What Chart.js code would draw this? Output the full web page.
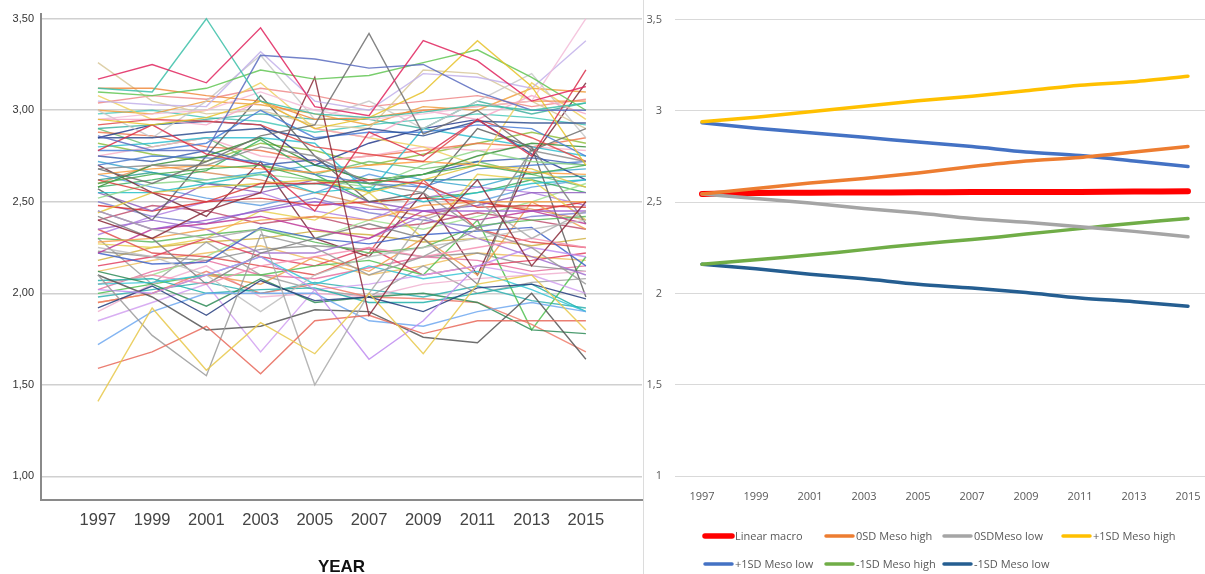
<!DOCTYPE html>
<html><head><meta charset="utf-8">
<script src="https://cdn.jsdelivr.net/npm/chart.js@4.4.1/dist/chart.umd.min.js"></script>
<style>
html,body{margin:0;padding:0;background:#fff;width:1205px;height:574px;overflow:hidden;}
#left{position:absolute;left:0;top:0;}
#right{position:absolute;left:644px;top:0;}
#sep{position:absolute;left:643px;top:0;width:1px;height:574px;background:#dcdcdc;}
</style></head><body>
<canvas id="left" width="643" height="574"></canvas>
<div id="sep"></div>
<canvas id="right" width="561" height="574"></canvas>
<script>
// ---------- shared categories ----------
const years = [1997, 1999, 2001, 2003, 2005, 2007, 2009, 2011, 2013, 2015];
const leftYTicks = [1.0, 1.5, 2.0, 2.5, 3.0, 3.5];
const rightYTicks = [1, 1.5, 2, 2.5, 3, 3.5];

// ---------- left panel: individual trajectories ----------
const p01 = [3.17,3.25,3.15,3.45,3.02,2.97,3.38,3.27,3.05,3.13];
const p02 = [3.12,3.10,3.50,3.05,2.98,2.96,2.99,3.03,3.00,3.04];
const p03 = [2.86,2.78,2.78,3.30,3.28,3.23,3.25,3.10,3.00,3.00];
const p04 = [2.68,2.60,2.72,2.86,2.92,3.42,2.87,3.00,2.78,2.90];
const p05 = [2.95,2.92,2.96,3.05,2.90,2.96,3.10,3.38,3.13,2.70];
const p06 = [3.10,3.08,3.12,3.22,3.17,3.19,3.26,3.33,3.18,3.00];
const p07 = [2.95,2.98,3.00,3.10,3.00,2.95,2.98,3.02,3.05,3.50];
const p08 = [3.05,3.03,3.02,3.32,3.05,3.00,3.20,3.18,3.12,3.38];
const p09 = [2.40,2.30,2.45,2.55,3.18,1.88,2.30,2.62,2.15,2.50];
const p10 = [2.78,2.92,2.76,2.70,2.45,2.88,2.75,2.95,2.75,3.22];
const p11 = [1.41,1.92,1.58,1.84,1.67,2.00,1.67,2.05,2.10,1.80];
const p12 = [1.59,1.68,1.82,1.56,1.85,1.88,1.78,1.85,1.85,1.85];
const p13 = [2.10,1.77,1.55,2.32,2.25,2.10,2.20,2.35,2.25,2.05];
const p14 = [2.45,2.35,2.30,2.35,1.50,2.00,2.40,2.50,2.30,2.45];
const p15 = [2.02,2.00,2.10,2.20,2.02,1.64,1.85,2.15,2.25,2.20];
const p16 = [2.10,1.98,1.80,1.82,1.91,1.90,1.76,1.73,2.00,1.64];
const p17 = [1.92,2.04,1.88,2.07,1.96,1.98,1.90,2.03,2.05,1.97];
const p18 = [1.72,1.90,2.00,2.00,2.00,1.85,1.82,1.90,1.95,1.90];
const p19 = [2.25,2.20,2.10,1.90,2.10,2.20,2.25,2.30,2.35,2.40];
const p20 = [2.85,2.85,2.88,2.90,2.84,2.90,2.86,2.94,2.93,2.93];
const p21 = [2.78,2.78,2.82,3.00,2.85,2.88,2.88,2.92,2.90,2.75];
const p22 = [2.60,2.65,2.68,2.70,2.62,2.60,2.65,2.70,2.65,2.70];
const p23 = [3.12,3.12,3.08,3.05,2.95,2.96,3.00,3.02,3.05,3.05];
const p24 = [2.62,2.55,2.50,2.60,2.60,2.62,2.60,2.47,2.48,2.47];
const p25 = [2.45,2.35,2.40,2.45,2.50,2.46,2.45,2.45,2.45,2.45];
const p26 = [2.68,2.70,2.70,2.80,2.75,2.60,2.55,2.35,2.78,2.72];
const p27 = [2.05,2.06,2.10,2.20,2.05,2.15,2.08,2.12,2.02,1.90];
const p28 = [2.12,2.05,1.93,2.08,1.95,1.98,2.00,1.95,1.80,1.78];
const p29 = [2.07,2.08,2.00,2.02,2.03,1.95,1.95,2.00,2.05,1.90];
const p30 = [2.05,2.10,2.05,2.15,2.20,2.25,2.20,2.25,2.30,2.25];
const p31 = [2.28,2.30,2.35,2.40,2.42,2.40,2.48,2.50,2.50,2.50];
const p32 = [2.22,2.35,2.38,2.42,2.35,2.30,2.45,2.40,2.45,2.38];
const p33 = [2.44,2.55,2.58,2.60,2.62,2.55,2.62,2.70,2.68,2.58];
const p34 = [2.52,2.60,2.62,2.65,2.62,2.58,2.70,2.78,2.72,2.70];
const p35 = [2.92,2.95,2.94,2.92,2.80,2.76,2.72,2.95,2.85,2.72];
const p36 = [2.42,2.30,2.05,2.22,2.30,2.38,2.30,2.05,2.80,2.38];
const p37 = [2.58,2.70,2.75,2.85,2.70,2.62,2.65,2.75,2.82,2.80];
const p38 = [2.22,2.16,2.17,2.36,2.30,2.27,2.32,2.34,2.36,2.15];
const p39 = [1.95,2.00,2.12,2.00,2.05,1.98,1.97,1.95,1.83,1.68];
const p40 = [1.85,1.95,2.05,1.68,2.02,2.05,2.10,2.15,2.10,2.00];
const p41 = [2.55,2.55,2.60,2.65,2.55,2.58,2.50,2.55,2.60,2.62];
const p42 = [2.65,2.68,2.70,2.68,2.66,2.70,2.72,2.70,2.66,2.65];
const p43 = [2.95,2.95,2.92,3.05,2.90,2.85,3.00,2.95,3.08,2.98];
const p44 = [3.00,2.85,3.05,3.30,2.95,3.05,2.90,3.05,3.20,2.85];
const p45 = [2.35,2.40,2.35,2.22,2.22,2.30,2.42,2.30,2.20,2.10];
const p46 = [3.08,2.95,3.00,3.15,2.90,2.85,2.80,2.70,3.15,2.95];
const p47 = [2.30,2.28,2.32,2.35,2.28,2.22,2.25,2.37,2.40,2.42];
const p48 = [2.35,2.22,2.20,2.15,2.10,2.22,2.62,2.35,2.28,2.25];
const p49 = [2.70,2.75,2.74,2.72,2.65,2.60,2.58,2.68,2.70,2.72];
const p50 = [3.26,3.05,2.98,3.00,2.92,2.90,3.22,3.20,3.05,2.90];
const p51 = [2.90,2.92,2.95,2.98,2.95,2.95,2.90,3.05,2.98,3.04];
const p52 = [2.57,2.40,2.75,3.08,2.75,2.50,2.55,2.90,2.80,1.98];
const p53 = [1.95,2.00,2.10,2.05,2.20,2.12,2.30,2.10,2.50,2.35];
const p54 = [2.80,2.82,2.85,2.85,2.82,2.55,2.90,2.85,2.80,2.75];
const p55 = [1.90,2.05,2.15,1.98,2.00,1.98,2.05,2.08,2.10,2.12];
const p56 = [2.00,2.05,2.10,2.10,2.15,2.18,2.10,2.40,1.80,2.20];
const p57 = [2.15,2.20,2.30,2.20,2.15,2.25,2.10,2.15,2.18,2.22];
const p58 = [2.55,2.45,2.60,2.55,2.62,2.50,2.45,2.48,2.55,2.55];
const p59 = [2.23,2.20,2.18,2.24,2.26,2.24,2.20,2.22,2.15,2.12];
const p60 = [2.75,2.72,2.78,2.70,2.73,2.60,2.65,2.72,2.74,2.70];
const p61 = [2.27,2.25,2.30,2.45,2.40,2.55,2.30,2.65,2.62,2.40];
const p62 = [2.62,2.66,2.60,2.58,2.60,2.56,2.62,2.62,2.63,2.64];
const p63 = [2.70,2.55,2.42,2.72,2.30,2.20,2.55,2.10,2.74,3.15];
const p64 = [3.00,2.98,3.05,3.03,2.98,2.92,3.02,3.00,3.12,3.10];
const p65 = [2.05,2.10,2.20,2.35,2.30,2.40,2.35,2.42,2.50,2.60];
const p66 = [2.30,2.05,2.28,2.10,2.02,1.98,2.15,2.00,2.06,2.08];
const p67 = [2.75,2.80,2.85,2.75,2.72,2.75,2.80,2.78,2.80,2.78];
const p68 = [2.48,2.45,2.50,2.52,2.48,2.50,2.52,2.50,2.45,2.50];
const p69 = [2.85,2.92,2.94,2.92,2.70,2.82,2.90,2.95,2.76,2.62];
const p70 = [2.58,2.62,2.67,2.84,2.65,2.50,2.52,2.55,2.62,2.55];
const p71 = [2.98,3.00,2.96,2.94,2.88,2.92,2.95,2.98,2.96,2.92];
const p72 = [2.88,2.86,2.80,2.78,2.72,2.75,2.78,2.82,2.80,2.85];
const p73 = [2.32,2.42,2.50,2.55,2.45,2.40,2.52,2.58,2.55,2.48];
const p74 = [2.18,2.25,2.28,2.30,2.34,2.32,2.28,2.30,2.26,2.30];
const p75 = [2.65,2.58,2.52,2.48,2.55,2.65,2.58,2.50,2.58,2.62];
const p76 = [2.02,2.12,2.18,2.10,2.08,2.14,2.20,2.18,2.12,2.15];
const p77 = [2.90,2.80,2.85,2.70,2.65,2.72,2.68,2.72,2.65,2.58];
const p78 = [2.40,2.48,2.45,2.38,2.42,2.35,2.38,2.44,2.40,2.35];
const p79 = [2.72,2.66,2.62,2.66,2.70,2.68,2.62,2.58,2.66,2.68];
const p80 = [2.12,2.18,2.22,2.26,2.18,2.10,2.15,2.22,2.20,2.18];
const p81 = [3.04,3.08,3.06,3.12,3.08,3.02,3.05,3.08,3.02,3.06];
const p82 = [2.50,2.42,2.38,2.46,2.52,2.44,2.40,2.36,2.42,2.44];
const p83 = [2.82,2.76,2.72,2.82,2.78,2.70,2.76,2.82,2.88,2.82];
const p84 = [1.98,2.02,2.06,2.00,2.06,2.02,1.98,2.04,1.96,1.92];
const p85 = [2.60,2.70,2.66,2.62,2.55,2.48,2.42,2.50,2.46,2.40];

const trajectories = [p01,p02,p03,p04,p05,p06,p07,p08,p09,p10,p11,p12,p13,p14,p15,p16,p17,p18,p19,p20,
  p21,p22,p23,p24,p25,p26,p27,p28,p29,p30,p31,p32,p33,p34,p35,p36,p37,p38,p39,p40,
  p41,p42,p43,p44,p45,p46,p47,p48,p49,p50,p51,p52,p53,p54,p55,p56,p57,p58,p59,p60,
  p61,p62,p63,p64,p65,p66,p67,p68,p69,p70,p71,p72,p73,p74,p75,p76,p77,p78,p79,p80,
  p81,p82,p83,p84,p85];

const trajColors = ['#e0245e','#3bbfa8','#5b6cc0','#6e6e6e','#e6c229','#62c653','#f3bcd8','#c2b0ea','#8b2a3a','#d9304c',
  '#e8c84a','#e8685a','#9a9a9a','#aaaaaa','#c08cf0','#555555','#243c7c','#6fa8f0','#bdbdbd','#2f4f8f',
  '#4a7fd8','#4caf50','#f08a3c','#d83b3b','#9b59d0','#8d8d8d','#35c6d6','#2e8b57','#20b2aa','#f48fb1',
  '#f5a04a','#c0399a','#e3c43c','#8fd68a','#e04848','#7f7f7f','#3a8f3a','#3f63c8','#ee7b6a','#d1a0f0',
  '#26c0c8','#ff9f40','#f7a8c8','#c8c8c8','#a070d0','#efd060','#5cb85c','#e05050','#5080d0','#d8c89a',
  '#40b0a0','#606060','#f0a050','#30c0d0','#f0b0d0','#50c050','#e04060','#9060c0','#909090','#4060b0',
  '#e8d050','#30a090','#7a2a3a','#f0a040','#a0e090','#a0a0a0','#f8b0c8','#e03030','#283c8c','#3cb060',
  '#48c8b8','#f07850','#b080e0','#d0b040','#60a0e0','#e870a0','#70c070','#c05070','#40a8d0','#f0c060',
  '#ee8888','#8080d0','#90c040','#30b0b0','#d89060'];

// ---------- right panel: model predictions ----------
const seriesNames = ['Linear macro','0SD Meso high','0SDMeso low','+1SD Meso high','+1SD Meso low','-1SD Meso high','-1SD Meso low'];
const linearMacro = [2.545,2.550,2.552,2.553,2.554,2.555,2.555,2.556,2.558,2.560];
const sd0MesoHigh = [2.545,2.575,2.605,2.630,2.660,2.695,2.725,2.745,2.775,2.805];
const sd0MesoLow  = [2.545,2.520,2.495,2.465,2.440,2.410,2.390,2.365,2.340,2.310];
const sdP1MesoHigh = [2.940,2.965,2.995,3.025,3.055,3.080,3.110,3.140,3.160,3.190];
const sdP1MesoLow  = [2.935,2.905,2.880,2.855,2.830,2.805,2.775,2.755,2.725,2.695];
const sdM1MesoHigh = [2.160,2.185,2.210,2.240,2.270,2.295,2.325,2.355,2.385,2.410];
const sdM1MesoLow  = [2.160,2.135,2.105,2.080,2.050,2.030,2.005,1.975,1.955,1.930];
const rightSeries = [linearMacro, sd0MesoHigh, sd0MesoLow, sdP1MesoHigh, sdP1MesoLow, sdM1MesoHigh, sdM1MesoLow];
const rightColors = ['#ff0000','#ed7d31','#a5a5a5','#ffc000','#4472c4','#70ad47','#255e91'];

const toPoints = vals => years.map((y, j) => ({x: y, y: vals[j]}));

// ---------- left chart ----------
new Chart(document.getElementById('left'), {
  type: 'line',
  data: {
    datasets: trajectories.map((vals, i) => ({
      data: toPoints(vals),
      borderColor: trajColors[i % trajColors.length] + 'd9',
      borderWidth: 1.4,
      pointRadius: 0,
      tension: 0,
      fill: false
    }))
  },
  options: {
    responsive: false,
    animation: false,
    events: [],
    plugins: {legend: {display: false}, tooltip: {enabled: false}},
    layout: {padding: {top: 13, right: 1, left: 0, bottom: 0}},
    scales: {
      x: {
        type: 'linear', min: 1994.9, max: 2017.07,
        afterBuildTicks: s => { s.ticks = years.map(v => ({value: v})); },
        afterFit: s => { s.height = 74; s.paddingLeft = 0; s.paddingRight = 0; },
        grid: {display: false, drawTicks: false},
        border: {display: true, color: '#8a8a8a', width: 2},
        ticks: {autoSkip: false, maxRotation: 0, padding: 11, color: '#444',
          font: {family: 'Liberation Sans, Arial, sans-serif', size: 16.5},
          callback: v => String(v)},
        title: {display: true, text: 'YEAR', color: '#111', padding: {top: 0, bottom: 0},
          font: {family: 'Liberation Sans, Arial, sans-serif', size: 17, weight: 'bold', lineHeight: 0.75}}
      },
      y: {
        min: 0.871, max: 3.528,
        afterBuildTicks: s => { s.ticks = leftYTicks.map(v => ({value: v})); },
        afterFit: s => { s.width = 41; },
        grid: {color: '#d0d0d0', lineWidth: 1.6, drawTicks: false},
        border: {display: true, color: '#8a8a8a', width: 2},
        ticks: {padding: 7, color: '#333',
          font: {family: 'Liberation Sans, Arial, sans-serif', size: 11},
          callback: v => Number(v).toFixed(2).replace('.', ',')}
      }
    }
  }
});

// ---------- right chart ----------
const excelLegend = {
  id: 'excelLegend',
  afterDraw(chart) {
    const ctx = chart.ctx;
    const colX = [59, 180, 298, 417];
    const rowY = [536, 564];
    ctx.save();
    ctx.font = "11px 'Open Sans', 'Liberation Sans', sans-serif";
    ctx.fillStyle = '#595959';
    ctx.textBaseline = 'middle';
    ctx.textAlign = 'left';
    chart.data.datasets.forEach((ds, i) => {
      const x = colX[i % 4], y = rowY[Math.floor(i / 4)];
      ctx.strokeStyle = ds.borderColor;
      ctx.lineWidth = i === 0 ? 5.5 : 3.5;
      ctx.lineCap = 'round';
      ctx.beginPath(); ctx.moveTo(x + 2, y); ctx.lineTo(x + 29, y); ctx.stroke();
      ctx.fillText(ds.label, x + 32, y + 0.5);
    });
    ctx.restore();
  }
};

new Chart(document.getElementById('right'), {
  type: 'line',
  data: {
    datasets: rightSeries.map((vals, i) => ({
      label: seriesNames[i],
      data: toPoints(vals),
      borderColor: rightColors[i],
      borderWidth: i === 0 ? 6 : 3.5,
      borderCapStyle: 'round',
      borderJoinStyle: 'round',
      pointRadius: 0,
      tension: 0.3,
      fill: false,
      order: i === 0 ? 1 : 0
    }))
  },
  options: {
    responsive: false,
    animation: false,
    events: [],
    plugins: {legend: {display: false}, tooltip: {enabled: false}},
    layout: {padding: {top: 18, right: 0, left: 0, bottom: 0}},
    scales: {
      x: {
        type: 'linear', min: 1996, max: 2015.63,
        afterBuildTicks: s => { s.ticks = years.map(v => ({value: v})); },
        afterFit: s => { s.height = 98; s.paddingLeft = 0; s.paddingRight = 0; },
        grid: {display: false, drawTicks: false},
        border: {display: false},
        ticks: {autoSkip: false, maxRotation: 0, padding: 14, color: '#595959',
          font: {family: 'Open Sans, Liberation Sans, sans-serif', size: 11},
          callback: v => String(v)}
      },
      y: {
        min: 1, max: 3.5,
        afterBuildTicks: s => { s.ticks = rightYTicks.map(v => ({value: v})); },
        afterFit: s => { s.width = 31; },
        grid: {color: '#d9d9d9', lineWidth: 1, drawTicks: false},
        border: {display: false},
        ticks: {padding: 13, color: '#595959',
          font: {family: 'Open Sans, Liberation Sans, sans-serif', size: 11},
          callback: v => String(v).replace('.', ',')}
      }
    }
  },
  plugins: [excelLegend]
});
</script>
</body></html>
